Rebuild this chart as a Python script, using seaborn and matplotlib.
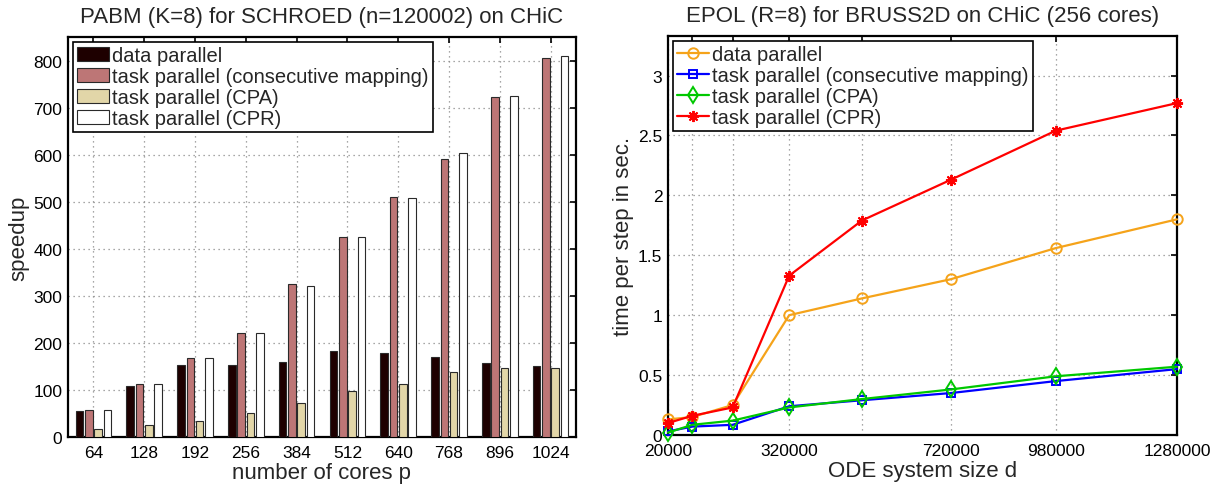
import numpy as np
import pandas as pd
import matplotlib
matplotlib.use("Agg")
import matplotlib.pyplot as plt
import seaborn as sns

# ---------------- data ----------------
cores = ["64", "128", "192", "256", "384", "512", "640", "768", "896", "1024"]
variants = ["data parallel", "task parallel (consecutive mapping)",
            "task parallel (CPA)", "task parallel (CPR)"]
speedup_data = [55, 109, 152, 154, 159, 183, 178, 169, 158, 150]
speedup_cons = [57, 113, 168, 222, 325, 424, 510, 590, 723, 806]
speedup_cpa = [16, 26, 33, 50, 72, 97, 113, 138, 147, 147]
speedup_cpr = [57, 113, 167, 220, 321, 425, 508, 604, 725, 809]

ode_size = [20000, 80000, 180000, 320000, 500000, 720000, 980000, 1280000]
xtick_labels = ["20000", "", "", "320000", "", "720000", "980000", "1280000"]
time_data = [0.13, 0.15, 0.25, 1.00, 1.14, 1.30, 1.56, 1.80]
time_cons = [0.03, 0.07, 0.085, 0.24, 0.29, 0.35, 0.45, 0.55]
time_cpa = [0.02, 0.085, 0.12, 0.23, 0.30, 0.38, 0.49, 0.57]
time_cpr = [0.10, 0.16, 0.23, 1.33, 1.79, 2.13, 2.54, 2.77]
yticks_right = [0, 0.5, 1, 1.5, 2, 2.5, 3]
ytick_labels_right = ["0", "0.5", "1", "1.5", "2", "2.5", "3"]
yticks_left = [0, 100, 200, 300, 400, 500, 600, 700, 800]

# ---------------- style ----------------
sns.set_style("white")
plt.rcParams["font.family"] = ["Liberation Sans", "DejaVu Sans"]

bar_colors = ["#1e0000", "#bd7676", "#e2d6a8", "#ffffff"]
line_colors = ["#f5a31a", "#0000ff", "#00c800", "#ff0000"]
line_markers = ["o", "s", "d", (8, 2, 0)]
marker_sizes = [7.5, 6, 8, 8]

TICK_FS = 12.5
LABEL_FS = 16
TITLE_FS = 16
LEG_FS = 14.5

fig = plt.figure(figsize=(12.15, 4.85), dpi=100)
ax1 = fig.add_axes([68 / 1215, 47 / 485, 508 / 1215, 400 / 485])
ax2 = fig.add_axes([668 / 1215, 49 / 485, 509 / 1215, 399 / 485])

# ---------------- left: bars ----------------
df = pd.DataFrame({
    "cores": cores * 4,
    "variant": sum([[v] * len(cores) for v in variants], []),
    "speedup": speedup_data + speedup_cons + speedup_cpa + speedup_cpr,
})
sns.barplot(data=df, x="cores", y="speedup", hue="variant",
            order=cores, hue_order=variants, palette=bar_colors,
            saturation=1, width=0.73, gap=0.18, errorbar=None,
            edgecolor="#2a2a2a", linewidth=0.8, ax=ax1, zorder=3)
ax1.set_xlim(-0.5, 9.5)
ax1.set_ylim(0, 850)
ax1.set_yticks(yticks_left)
ax1.set_title("PABM (K=8) for SCHROED (n=120002) on CHiC", fontsize=TITLE_FS, pad=11)
ax1.set_xlabel("number of cores p", fontsize=LABEL_FS, labelpad=1)
ax1.set_ylabel("speedup", fontsize=LABEL_FS, labelpad=3)
h, l = ax1.get_legend_handles_labels()
ax1.legend(h, l, loc="upper left", fontsize=LEG_FS, fancybox=False,
           edgecolor="black", framealpha=1, borderaxespad=0.25,
           labelspacing=0.1, handlelength=1.6, handleheight=0.75,
           handletextpad=0.15, borderpad=0.2).get_frame().set_linewidth(1.2)

# ---------------- right: lines ----------------
series = [time_data, time_cons, time_cpa, time_cpr]
for vals, name, col, mk, ms in zip(series, variants, line_colors, line_markers, marker_sizes):
    sns.lineplot(x=ode_size, y=vals, color=col, marker=mk, label=name,
                 mfc="none", mec=col, mew=1.4, ms=ms,
                 lw=1.6, ax=ax2, clip_on=False, zorder=4)
ax2.set_xlim(20000, 1280000)
ax2.set_ylim(0, 3.33)
ax2.set_xticks(ode_size)
ax2.set_xticklabels(xtick_labels)
ax2.set_yticks(yticks_right)
ax2.set_yticklabels(ytick_labels_right)
ax2.set_title("EPOL (R=8) for BRUSS2D on CHiC (256 cores)", fontsize=TITLE_FS, pad=11)
ax2.set_xlabel("ODE system size d", fontsize=LABEL_FS, labelpad=1)
ax2.set_ylabel("time per step in sec.", fontsize=LABEL_FS, labelpad=3)
h, l = ax2.get_legend_handles_labels()
leg2 = ax2.legend(h, l, loc="upper left", fontsize=LEG_FS, fancybox=False,
                  edgecolor="black", framealpha=1, borderaxespad=0.25,
                  labelspacing=0.1, handlelength=1.6, handletextpad=0.15,
                  borderpad=0.2)
leg2.get_frame().set_linewidth(1.2)
leg2.set_zorder(10)

# ---------------- common axes styling ----------------
for ax in (ax1, ax2):
    ax.grid(True, which="major", color="#8a8a8a", linestyle=(0, (1, 3)), linewidth=0.9)
    ax.set_axisbelow(True)
    for s in ax.spines.values():
        s.set_visible(True)
        s.set_linewidth(1.6)
        s.set_color("black")
    ax.tick_params(direction="in", length=4, width=1.2, top=True, right=True,
                   labelsize=TICK_FS, colors="black")
    ax.tick_params(axis="x", pad=6)
    ax.tick_params(axis="y", pad=4)

fig.savefig("out.png", dpi=100)
